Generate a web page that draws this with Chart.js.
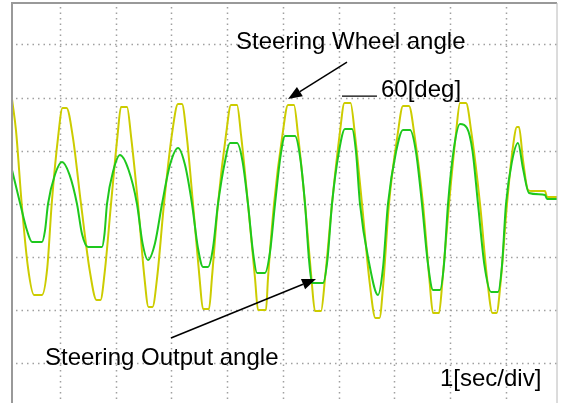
<!DOCTYPE html>
<html><head><meta charset="utf-8">
<style>html,body{margin:0;padding:0;background:#fff;overflow:hidden}canvas{display:block}</style>
<script src="https://cdn.jsdelivr.net/npm/chart.js@4.4.1/dist/chart.umd.min.js"></script>
</head><body>
<canvas id="c" width="563" height="403"></canvas>
<script>
// time in seconds (1 s per division), angle in degrees (30 deg per division)
const wheelTime = [0.139,0.211,0.313,0.426,0.534,0.677,0.772,0.851,0.966,1.045,1.117,1.230,1.377,1.535,1.655,1.726,1.804,1.915,2.031,2.094,2.202,2.274,2.399,2.512,2.587,2.659,2.745,2.865,3.009,3.117,3.188,3.269,3.386,3.502,3.565,3.673,3.726,3.834,3.978,4.067,4.175,4.247,4.372,4.498,4.552,4.695,4.731,4.839,4.991,5.090,5.197,5.269,5.395,5.511,5.574,5.682,5.753,5.879,6.019,6.103,6.211,6.288,6.417,6.557,6.659,6.731,6.799,6.901,7.054,7.153,7.260,7.359,7.511,7.628,7.691,7.798,7.861,7.978,8.103,8.175,8.283,8.381,8.534,8.665,8.758,8.830,8.907,9.018,9.117,9.197,9.233,9.305,9.395,9.466,9.700,9.736,9.915];
const wheelAngle = [59.2,41.4,0,-35.9,-51.3,-51.3,-35.9,0,37.9,54.2,54.2,37.9,0,-37.9,-54.2,-54.2,-37.9,0,38.3,54.7,54.7,38.3,0,-40.7,-58.1,-58.1,-40.7,0,39.5,56.4,56.4,39.5,0,-41.4,-59.2,-59.2,-41.4,0,39.1,55.9,55.9,39.1,0,-41.9,-59.8,-59.8,-41.9,0,39.1,55.9,55.9,39.1,0,-42.3,-60.4,-60.4,-42.3,0,39.9,57.0,57.0,39.9,0,-45.0,-64.3,-64.3,-45.0,0,38.7,55.3,55.3,38.7,0,-43.1,-61.5,-61.5,-43.1,0,39.9,57.0,57.0,39.9,0,-43.1,-61.5,-61.5,-43.1,0,30.4,43.4,43.4,24.8,7.9,7.3,7.3,3.9,3.9];
const outputTime = [0.139,0.283,0.408,0.498,0.677,0.731,0.785,0.910,1.036,1.170,1.305,1.395,1.502,1.753,1.798,1.843,1.960,2.076,2.229,2.381,2.480,2.578,2.704,2.830,2.973,3.117,3.242,3.368,3.475,3.565,3.655,3.744,3.834,3.960,4.049,4.175,4.274,4.372,4.462,4.534,4.677,4.767,4.857,4.955,5.036,5.215,5.305,5.395,5.466,5.520,5.717,5.798,5.879,6.004,6.112,6.238,6.309,6.381,6.543,6.704,6.794,6.883,7.027,7.153,7.279,7.386,7.493,7.601,7.691,7.816,7.888,7.960,8.067,8.175,8.300,8.399,8.498,8.614,8.731,8.857,8.928,9.000,9.108,9.215,9.305,9.413,9.700,9.736,9.915];
const outputAngle = [19.2,0.6,-15.0,-21.4,-21.4,-15.0,0,16.6,23.7,16.6,0,-17.0,-24.3,-24.3,-17.0,0,19.3,27.6,19.3,0,-22.1,-31.6,-22.1,0,22.1,31.6,22.1,0,-24.9,-35.5,-35.5,-24.9,0,24.1,34.4,34.4,24.1,0,-27.2,-38.9,-38.9,-27.2,0,26.9,38.4,38.4,26.9,0,-31.2,-44.6,-44.6,-31.2,0,29.6,42.3,42.3,29.6,0,-33.0,-51.3,-35.9,0,29.3,41.8,41.8,29.3,0,-34.0,-48.5,-48.5,-34.0,0,31.6,45.1,42.9,30.0,0,-34.7,-49.6,-49.6,-34.7,0,24.1,34.4,20.0,6.2,5.1,2.8,2.8];
const timeTicks = [1,2,3,4,5,6,7,8,9];
const angleTicks = [-90,-60,-30,0,30,60,90];
const wheelLabel = 'Steering Wheel angle';
const outputLabel = 'Steering Output angle';
const scaleLabel = '60[deg]';
const timeLabel = '1[sec/div]';

const toXY = (ts, vs) => ts.map((t, i) => ({x: t, y: vs[i]}));

// dotted oscilloscope graticule drawn at the scales' tick positions
const graticule = {
  id: 'graticule',
  beforeDraw(chart) {
    const c = chart.ctx;
    c.save(); c.fillStyle = '#fff'; c.fillRect(0, 0, chart.width, chart.height); c.restore();
  },
  beforeDatasetsDraw(chart) {
    const {ctx, chartArea: a, scales: {x, y}} = chart;
    ctx.save();
    ctx.strokeStyle = '#a0a0a0'; ctx.lineWidth = 1.5; ctx.setLineDash([1.5, 4]);
    x.ticks.forEach(tk => {
      const px = Math.round(x.getPixelForValue(tk.value)) + 0.5;
      ctx.beginPath(); ctx.moveTo(px, a.top + 4); ctx.lineTo(px, a.bottom); ctx.stroke();
    });
    y.ticks.forEach(tk => {
      const py = Math.round(y.getPixelForValue(tk.value)) + 0.5;
      ctx.beginPath(); ctx.moveTo(a.left + 4, py); ctx.lineTo(a.right, py); ctx.stroke();
    });
    ctx.restore();
  }
};

const overlay = {
  id: 'overlay',
  afterDraw(chart) {
    const {ctx, chartArea: a, scales: {x, y}} = chart;
    ctx.save();
    // frame
    ctx.strokeStyle = '#999'; ctx.lineWidth = 2;
    ctx.beginPath(); ctx.moveTo(a.left, a.bottom + 2); ctx.lineTo(a.left, a.top); ctx.lineTo(a.right, a.top); ctx.stroke();
    ctx.strokeStyle = '#b8b8b8'; ctx.lineWidth = 1;
    ctx.beginPath(); ctx.moveTo(a.right, a.top); ctx.lineTo(a.right, a.bottom + 2); ctx.stroke();

    const P = (t, d) => [x.getPixelForValue(t), y.getPixelForValue(d)];
    ctx.fillStyle = '#000'; ctx.strokeStyle = '#000';
    ctx.font = '24px "Liberation Sans", Arial, sans-serif';
    ctx.textBaseline = 'alphabetic';
    const text = (s, t, d) => { const [px, py] = P(t, d); ctx.fillText(s, px, py); };
    text(wheelLabel, 4.157, 87.5);
    text(outputLabel, 0.731, -90.8);
    text(scaleLabel, 6.758, 60.2);
    text(timeLabel, 7.816, -102.7);

    // short scale bar line
    ctx.lineWidth = 1.2;
    let [x1, y1] = P(6.058, 60.9), [x2] = P(6.686, 60.9);
    ctx.beginPath(); ctx.moveTo(x1, y1); ctx.lineTo(x2, y1); ctx.stroke();

    const arrow = (t0, d0, t1, d1) => {
      const [ax, ay] = P(t0, d0), [bx, by] = P(t1, d1);
      const ang = Math.atan2(by - ay, bx - ax), L = 14, W = 5.5;
      const hx = bx - L * Math.cos(ang), hy = by - L * Math.sin(ang);
      ctx.lineWidth = 1.5;
      ctx.beginPath(); ctx.moveTo(ax, ay); ctx.lineTo(hx, hy); ctx.stroke();
      ctx.beginPath();
      ctx.moveTo(bx, by);
      ctx.lineTo(hx + W * Math.sin(ang), hy - W * Math.cos(ang));
      ctx.lineTo(hx - W * Math.sin(ang), hy + W * Math.cos(ang));
      ctx.closePath(); ctx.fill();
    };
    arrow(6.148, 80.1, 5.090, 59.2);
    arrow(2.991, -75.6, 5.592, -42.3);
    ctx.restore();
  }
};

new Chart(document.getElementById('c'), {
  type: 'line',
  data: {
    datasets: [
      {label: outputLabel, data: toXY(outputTime, outputAngle), borderColor: '#1ec81e', borderWidth: 2, order: 0,
       cubicInterpolationMode: 'monotone'},
      {label: wheelLabel, data: toXY(wheelTime, wheelAngle), borderColor: '#cccc00', borderWidth: 2, order: 1,
       cubicInterpolationMode: 'monotone'}
    ]
  },
  options: {
    responsive: false, animation: false, devicePixelRatio: 1,
    layout: {padding: {left: 12, top: 3, right: 6, bottom: 0}},
    elements: {point: {radius: 0}, line: {fill: false}},
    plugins: {legend: {display: false}, tooltip: {enabled: false}},
    scales: {
      x: {type: 'linear', min: 0.139, max: 9.915,
          afterBuildTicks: ax => { ax.ticks = timeTicks.map(v => ({value: v})); },
          ticks: {display: false}, border: {display: false}, grid: {display: false, drawTicks: false}},
      y: {type: 'linear', min: -112.3, max: 113.4,
          afterBuildTicks: ax => { ax.ticks = angleTicks.map(v => ({value: v})); },
          ticks: {display: false}, border: {display: false}, grid: {display: false, drawTicks: false}}
    }
  },
  plugins: [graticule, overlay]
});
</script>
</body></html>
